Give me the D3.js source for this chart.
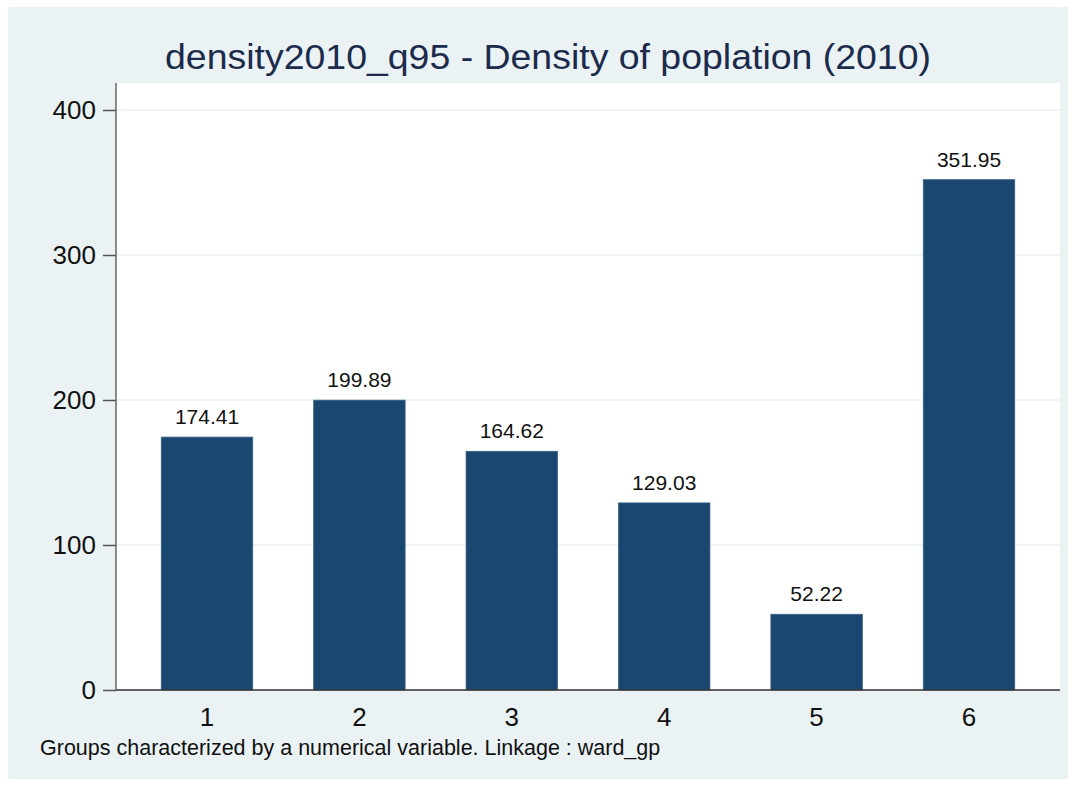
<!DOCTYPE html>
<html><head><meta charset="utf-8">
<script src="https://cdn.jsdelivr.net/npm/d3@7"></script>
<style>body{margin:0;background:#fff}svg{display:block;font-family:"Liberation Sans",Arial,sans-serif}</style>
</head><body>
<svg id="c" width="1076" height="786"></svg>
<script>
const categories = ["1","2","3","4","5","6"];
const values = [174.41, 199.89, 164.62, 129.03, 52.22, 351.95];
const valueLabels = ["174.41","199.89","164.62","129.03","52.22","351.95"];
const yTicks = [0,100,200,300,400];
const titleText = "density2010_q95 - Density of poplation (2010)";
const noteText = "Groups characterized by a numerical variable. Linkage : ward_gp";

const svg = d3.select("#c");
svg.append("rect").attr("x",8).attr("y",7).attr("width",1060).attr("height",772).attr("fill","#eaf2f3");
const L=116, R=1060, T=83, B=690;
svg.append("rect").attr("x",L).attr("y",T).attr("width",R-L).attr("height",B-T).attr("fill","#fff");

const y = d3.scaleLinear().domain([0,400]).range([B,110]);
const x = d3.scaleBand().domain(categories).range([L+14.8,R-14.8]).padding(0);

// grid
svg.append("g").selectAll("line").data(yTicks.filter(d=>d>0)).join("line")
  .attr("x1",L).attr("x2",R).attr("y1",d=>y(d)).attr("y2",d=>y(d))
  .attr("stroke","#eaf2f3").attr("stroke-width",1.5);

// bars
const bw = x.bandwidth()*0.6;
svg.append("g").selectAll("rect").data(values).join("rect")
  .attr("x",(d,i)=>x(categories[i])+x.bandwidth()/2-bw/2)
  .attr("width",bw)
  .attr("y",d=>y(d)).attr("height",d=>B-y(d))
  .attr("fill","#1a476f").attr("stroke","#3a6288").attr("stroke-width",0.8);

svg.append("g").selectAll("text").data(values).join("text")
  .attr("x",(d,i)=>x(categories[i])+x.bandwidth()/2)
  .attr("y",d=>y(d)-13)
  .attr("text-anchor","middle").attr("font-size",21).attr("fill","#111")
  .text((d,i)=>valueLabels[i]);

// y axis
const ya = svg.append("g").attr("transform",`translate(${L},0)`)
  .call(d3.axisLeft(y).tickValues(yTicks).tickSize(13).tickPadding(7));
ya.select(".domain").attr("d",`M0,${T}V${B}`).attr("stroke","#666").attr("stroke-width",1.5);
ya.selectAll(".tick line").attr("stroke","#555").attr("stroke-width",1.5);
ya.selectAll(".tick text").attr("font-size",26).attr("fill","#111").attr("font-family","Liberation Sans, Arial, sans-serif");

// x axis
const xa = svg.append("g").attr("transform",`translate(0,${B})`)
  .call(d3.axisBottom(x).tickSize(0).tickPadding(18));
xa.select(".domain").attr("d",`M${L},0H${R}`).attr("stroke","#333").attr("stroke-width",1.5);
xa.selectAll(".tick text").attr("font-size",26).attr("fill","#111").attr("font-family","Liberation Sans, Arial, sans-serif");

svg.append("text").attr("transform","translate(548,69) scale(1.07,1)").attr("text-anchor","middle")
  .attr("font-size",35).attr("fill","#1c2b4c").text(titleText);
svg.append("text").attr("x",40).attr("y",755).attr("font-size",21.5).attr("fill","#111").text(noteText);
</script>
</body></html>
